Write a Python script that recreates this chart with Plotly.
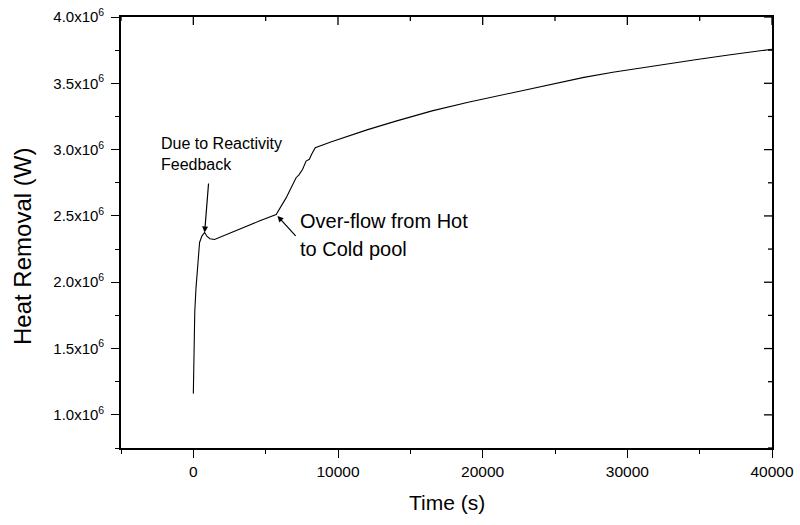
import plotly.graph_objects as go

# Transient heat removal after the event
time_s = [0, 15, 30, 60, 100, 180, 314, 431, 600, 780, 950, 1150, 1466,
          2500, 3500, 4600, 5724, 6000, 6200, 6414, 6700, 7103, 7300, 7556,
          7793, 8018, 8178, 8428, 9500, 11000, 12000, 14000, 16500, 19000,
          21100, 23200, 24450, 27000, 29000, 31500, 34700, 37000, 40000]
heat_mw = [1.16, 1.30, 1.42, 1.63, 1.78, 1.95, 2.13, 2.30, 2.35, 2.375, 2.345,
           2.328, 2.322, 2.37, 2.415, 2.463, 2.511, 2.56, 2.60, 2.636, 2.70,
           2.788, 2.81, 2.852, 2.914, 2.927, 2.965, 3.015, 3.058, 3.115, 3.149,
           3.215, 3.292, 3.357, 3.407, 3.456, 3.487, 3.545, 3.584, 3.627, 3.677,
           3.713, 3.757]
heat_w = [v * 1e6 for v in heat_mw]

x_tickvals = [0, 10000, 20000, 30000, 40000]
x_ticktext = ["0", "10000", "20000", "30000", "40000"]
x_minorvals = [-5000, 5000, 15000, 25000, 35000]
y_tickvals = [1.0e6, 1.5e6, 2.0e6, 2.5e6, 3.0e6, 3.5e6, 4.0e6]
y_ticktext = ["1.0x10<sup>6</sup>", "1.5x10<sup>6</sup>", "2.0x10<sup>6</sup>",
              "2.5x10<sup>6</sup>", "3.0x10<sup>6</sup>", "3.5x10<sup>6</sup>",
              "4.0x10<sup>6</sup>"]
y_minorvals = [0.75e6, 1.25e6, 1.75e6, 2.25e6, 2.75e6, 3.25e6, 3.75e6]
x_range = [-5000, 40000]
y_range = [0.75e6, 4.0e6]

FONT = "Liberation Sans, Arial, sans-serif"
PLOT_W, PLOT_H = 651, 431          # plotting area in px
MAJOR, MINOR = 8, 4                # tick lengths in px

fig = go.Figure()
fig.add_trace(go.Scatter(x=time_s, y=heat_w, mode="lines",
                         line=dict(color="black", width=1.1),
                         showlegend=False, hoverinfo="skip"))

common = dict(showgrid=False, zeroline=False, showline=True, mirror=True,
              linecolor="black", linewidth=1.6, tickcolor="black",
              tickwidth=1.4, ticklen=MAJOR, automargin=False)

fig.update_layout(
    width=800, height=525,
    margin=dict(l=121, r=28, t=17, b=77),
    paper_bgcolor="white", plot_bgcolor="white",
    font=dict(family=FONT, color="black", size=15),
    xaxis=dict(range=x_range, tickvals=x_tickvals, ticktext=x_ticktext,
               ticks="outside", ticklabelstandoff=1,
               tickfont=dict(family=FONT, size=15.5),
               minor=dict(ticks="outside", ticklen=MINOR, dtick=5000, tick0=0,
                          tickcolor="black", tickwidth=1.2, showgrid=False),
               **common),
    yaxis=dict(range=y_range, tickvals=y_tickvals, ticktext=y_ticktext,
               ticks="outside", ticklabelstandoff=4,
               tickfont=dict(family=FONT, size=15),
               minor=dict(ticks="outside", ticklen=MINOR, dtick=0.25e6, tick0=0,
                          tickcolor="black", tickwidth=1.2, showgrid=False),
               **common),
)

# inward ticks on the top and right frame edges
tick_line = dict(color="black", width=1.3)
for vals, ln in ((x_tickvals, MAJOR), (x_minorvals, MINOR)):
    for v in vals:
        fig.add_shape(type="line", xref="x", yref="paper", x0=v, x1=v,
                      y0=1, y1=1 - ln / PLOT_H, line=tick_line)
for vals, ln in ((y_tickvals, MAJOR), (y_minorvals, MINOR)):
    for v in vals:
        fig.add_shape(type="line", xref="paper", yref="y", y0=v, y1=v,
                      x0=1, x1=1 - ln / PLOT_W, line=tick_line)

# axis titles
fig.add_annotation(text="Time (s)", xref="paper", yref="paper", x=0.5, y=-0.126,
                   xanchor="center", yanchor="middle", showarrow=False,
                   font=dict(family=FONT, size=21))
fig.add_annotation(text="Heat Removal (W)", xref="paper", yref="paper",
                   x=-0.151, y=0.468, xanchor="center", yanchor="middle",
                   textangle=-90, showarrow=False,
                   font=dict(family=FONT, size=24))

# arrows carry a tiny blank label so the shaft starts at the given tail point
arrow_style = dict(showarrow=True, arrowhead=2, arrowsize=1, arrowwidth=1.2,
                   arrowcolor="black", text=" ", font=dict(size=1),
                   borderpad=0, xref="x", yref="y")

# arrow to the reactivity-feedback peak
early = [i for i, t in enumerate(time_s) if t < 3000]
ipk = max(early, key=lambda i: heat_w[i])
fig.add_annotation(x=time_s[ipk], y=heat_w[ipk], ax=4, ay=-50, standoff=0,
                   **arrow_style)
for line, ypx in (("Due to Reactivity", 143), ("Feedback", 164)):
    fig.add_annotation(text=line, xref="paper", yref="paper",
                       x=(159.3 - 121) / PLOT_W, y=(447.7 - ypx) / PLOT_H,
                       xanchor="left", yanchor="middle", showarrow=False,
                       font=dict(family=FONT, size=16))

# arrow to the start of the hot-to-cold pool overflow
iov = time_s.index(5724)
fig.add_annotation(x=time_s[iov], y=heat_w[iov], ax=20, ay=22, standoff=2,
                   **arrow_style)
for line, ypx in (("Over-flow from Hot", 220.5), ("to Cold pool", 249)):
    fig.add_annotation(text=line, xref="paper", yref="paper",
                       x=(298.3 - 121) / PLOT_W, y=(447.7 - ypx) / PLOT_H,
                       xanchor="left", yanchor="middle", showarrow=False,
                       font=dict(family=FONT, size=20))

fig.write_html("out.html", config={"displayModeBar": False})
